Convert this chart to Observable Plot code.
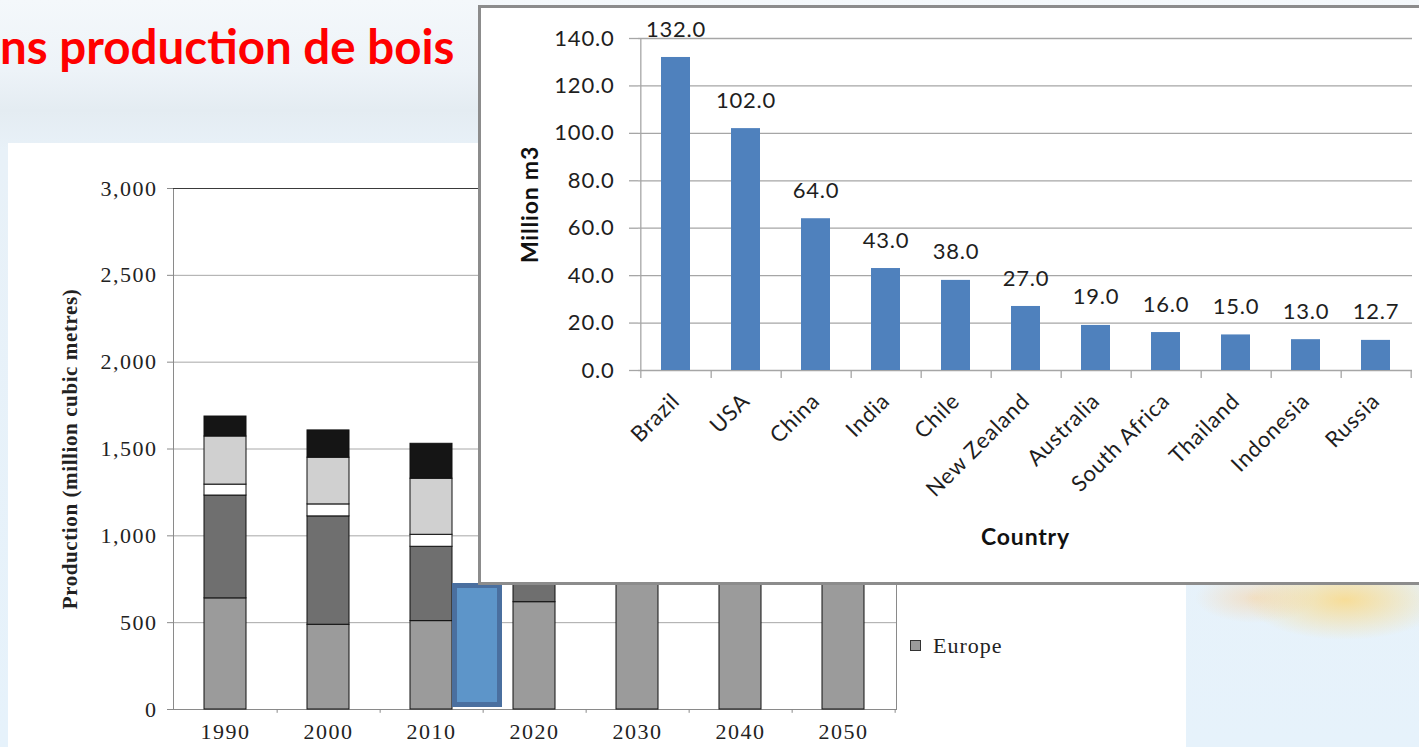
<!DOCTYPE html>
<html>
<head>
<meta charset="utf-8">
<script src="https://cdn.jsdelivr.net/npm/d3@7"></script>
<script src="https://cdn.jsdelivr.net/npm/@observablehq/plot@0.6"></script>
<style>
  html, body { margin: 0; padding: 0; width: 1419px; height: 747px; overflow: hidden; }
  body {
    position: relative;
    background:
      radial-gradient(ellipse 100px 40px at 1345px 600px, rgba(252,214,120,0.75), rgba(252,214,120,0) 100%),
      radial-gradient(ellipse 60px 25px at 1255px 598px, rgba(250,205,150,0.5), rgba(250,205,150,0) 100%),
      linear-gradient(180deg, #f4f8fb 0px, #edf3f8 70px, #e4ecf2 110px, #e8f1f8 150px, #e6f2fb 747px);
  }
  #title {
    position: absolute; left: 0px; top: 22px;
    font: bold 47.5px Lato, "Open Sans", sans-serif; line-height: 48px; color: #ff0000; white-space: nowrap;
  }
  #leftPanel { position: absolute; left: 8px; top: 143px; width: 1178px; height: 604px; background: #fff; }
  #leftPanel svg { position: absolute; left: 0; top: 0; letter-spacing: 1.5px; }
  #leftPanel svg text.ytitle, #leftPanel svg .ytitle text { letter-spacing: 0.6px; }
  #legend { position: absolute; left: 902px; top: 490px; font: 22px "Liberation Serif", "Times New Roman", serif; color: #222; white-space: nowrap; letter-spacing: 1px; }
  #legend .sw { display: inline-block; width: 9px; height: 9px; border: 1px solid #333; background: #9b9b9b; margin-right: 12px; vertical-align: 2px; }
  #blueBox { position: absolute; left: 452px; top: 583px; width: 40px; height: 114px; background: #5d95c9; border: 5px solid #4a6f9f; }
  #inset { position: absolute; left: 478px; top: 5px; width: 960px; height: 580px; box-sizing: border-box; border: 3px solid #8c8c8c; border-right: none; background: #fff; }
  #inset svg { position: absolute; left: 0; top: 0; letter-spacing: 0.8px; }
</style>
</head>
<body>
<div id="title">ns production de bois</div>
<div id="leftPanel"><div id="legend"><span class="sw"></span>Europe</div></div>
<div id="blueBox"></div>
<div id="inset"></div>
<script>
// ---- Background stacked chart (million cubic metres) ----
const years = ["1990", "2000", "2010", "2020", "2030", "2040", "2050"];
const regions = ["Europe", "North America", "Oceania", "Asia", "Latin America & Africa"];
const europe        = [640, 488, 509, 618, 745, 790, 840];
const northAmerica  = [592, 624, 428, 560, 600, 640, 680];
const oceania       = [63, 69, 69, 75, 85, 95, 105];
const asia          = [277, 269, 323, 360, 400, 440, 480];
const latinAfrica   = [115, 157, 201, 240, 280, 320, 360];
const regionColors  = ["#9b9b9b", "#6f6f6f", "#ffffff", "#d0d0d0", "#151515"];
const leftTicks = [0, 500, 1000, 1500, 2000, 2500, 3000];

// ---- Inset chart ----
const countries = ["Brazil", "USA", "China", "India", "Chile", "New Zealand", "Australia", "South Africa", "Thailand", "Indonesia", "Russia"];
const volumes = [132.0, 102.0, 64.0, 43.0, 38.0, 27.0, 19.0, 16.0, 15.0, 13.0, 12.7];
const insetTicks = [0, 20, 40, 60, 80, 100, 120, 140];

const seriesByRegion = [europe, northAmerica, oceania, asia, latinAfrica];
const stackRows = [];
years.forEach((yr, i) => regions.forEach((r, j) => stackRows.push({year: yr, region: r, value: seriesByRegion[j][i]})));

const L = {width: 900, height: 604, left: 165, right: 12, top: 45, bottom: 38};
const step1 = (L.width - L.left - L.right) / years.length;

const leftChart = Plot.plot({
  width: L.width, height: L.height,
  marginLeft: L.left, marginRight: L.right, marginTop: L.top, marginBottom: L.bottom,
  style: {fontFamily: "'Liberation Serif', 'Times New Roman', serif", fontSize: "22px", color: "#222", background: "transparent", overflow: "visible"},
  x: {type: "band", domain: years, paddingInner: 0.59, paddingOuter: 0.295},
  y: {domain: [0, 3000]},
  color: {domain: regions, range: regionColors},
  marks: [
    Plot.gridY(leftTicks.slice(1, -1), {stroke: "#a8a8a8", strokeOpacity: 1}),
    Plot.frame({stroke: "#8a8a8a"}),
    Plot.ruleY([3000], {stroke: "#3a3a3a"}),
    Plot.barY(stackRows, {x: "year", y: "value", fill: "region", stroke: "#111", strokeWidth: 1}),
    Plot.axisY(leftTicks, {tickFormat: d3.format(","), tickSize: 6, tickPadding: 10, stroke: "#8a8a8a", label: null}),
    Plot.axisX({tickSize: 0, tickPadding: 14, label: null}),
    Plot.ruleX(years, {x: d => d, dx: step1 / 2, y1: 0, y2: -22, stroke: "#8a8a8a"}),
    Plot.text(["Production (million cubic metres)"], {frameAnchor: "left", textAnchor: "middle", lineAnchor: "middle", dx: -103, rotate: -90, fontWeight: "bold", fontSize: 21, fill: "#222", className: "ytitle"})
  ]
});
document.getElementById("leftPanel").prepend(leftChart);

const insetRows = countries.map((c, i) => ({country: c, volume: volumes[i]}));
const I = {width: 941, height: 574, left: 157, right: 10, top: 30, bottom: 212};
const step2 = (I.width - I.left - I.right) / countries.length;
const yPerPx = 140 / (I.height - I.top - I.bottom);

const insetChart = Plot.plot({
  width: I.width, height: I.height,
  marginLeft: I.left, marginRight: I.right, marginTop: I.top, marginBottom: I.bottom,
  style: {fontFamily: "Lato, 'Open Sans', sans-serif", fontSize: "22px", color: "#1e1e1e", background: "#fff", overflow: "visible"},
  x: {type: "band", domain: countries, paddingInner: 0.59, paddingOuter: 0.295},
  y: {domain: [0, 140]},
  marks: [
    Plot.gridY(insetTicks, {stroke: "#a6a6a6", strokeOpacity: 1, strokeWidth: 1.3}),
    Plot.axisY(insetTicks, {tickFormat: d3.format(".1f"), tickSize: 9, tickPadding: 15, stroke: "#a6a6a6", strokeWidth: 1.3, label: null}),
    Plot.ruleX([countries[0]], {x: d => d, dx: -step2 / 2, y1: -8 * yPerPx, y2: 140, stroke: "#a6a6a6", strokeWidth: 1.3}),
    Plot.ruleX(countries, {x: d => d, dx: step2 / 2, y1: 0, y2: -8 * yPerPx, stroke: "#a6a6a6", strokeWidth: 1.3}),
    Plot.barY(insetRows, {x: "country", y: "volume", fill: "#4f81bd"}),
    Plot.text(insetRows, {x: "country", y: "volume", text: d => d.volume.toFixed(1), dy: -28, fontSize: 22, fill: "#1e1e1e"}),
    Plot.axisX({tickSize: 0, tickRotate: -45, tickPadding: 12, dx: 0, dy: 15, fontSize: 22, label: null}),
    Plot.text(["Million m3"], {frameAnchor: "left", textAnchor: "middle", lineAnchor: "middle", dx: -108, rotate: -90, fontWeight: "bold", fontSize: 23, fill: "#111"}),
    Plot.text(["Country"], {frameAnchor: "bottom", lineAnchor: "middle", dy: 167, fontWeight: "bold", fontSize: 23, fill: "#111"})
  ]
});
document.getElementById("inset").append(insetChart);
</script>
</body>
</html>
